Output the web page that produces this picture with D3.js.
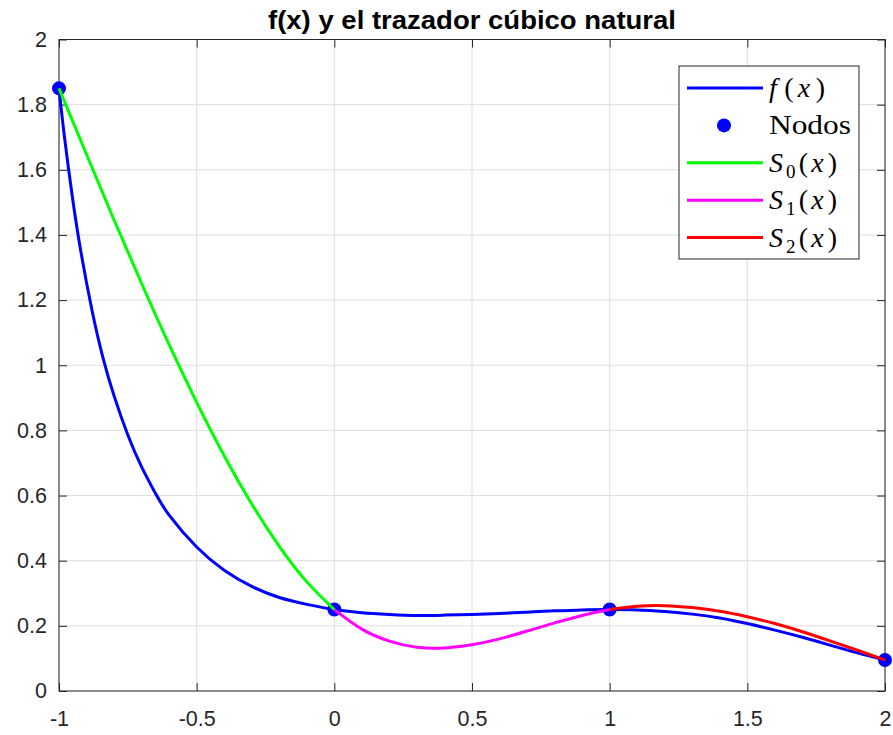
<!DOCTYPE html>
<html>
<head>
<meta charset="utf-8">
<script src="https://cdn.jsdelivr.net/npm/d3@7/dist/d3.min.js"></script>
<style>
  html, body { margin: 0; padding: 0; background: #ffffff; }
  svg { display: block; }
</style>
</head>
<body>
<svg id="chart" width="893" height="735"></svg>
<script>
// Interpolation nodes
const nodeX = [-1, 0, 1, 2];
const nodeY = [1.85, 0.25, 0.25, 0.095];

// f(x) sampled along the interval
const fX = [-1, -0.98, -0.95, -0.92, -0.88, -0.84, -0.8, -0.75, -0.7, -0.65, -0.6, -0.5, -0.4, -0.3, -0.2, -0.1,
            0, 0.1, 0.2, 0.3, 0.4, 0.5, 0.6, 0.7, 0.8, 0.9, 1, 1.1, 1.2, 1.3, 1.4, 1.5, 1.6, 1.7, 1.8, 1.9, 2];
const fY = [1.85, 1.70, 1.508, 1.346, 1.168, 1.022, 0.906, 0.786, 0.688, 0.607, 0.54, 0.442, 0.371, 0.321, 0.287, 0.266,
            0.25, 0.24, 0.235, 0.232, 0.233, 0.235, 0.238, 0.242, 0.246, 0.249, 0.25, 0.249, 0.244, 0.236, 0.224, 0.207, 0.187, 0.165, 0.141, 0.117, 0.095];

// Natural cubic spline pieces
const s0X = [-1, -0.9, -0.8, -0.7, -0.6, -0.5, -0.4, -0.3, -0.2, -0.1, 0];
const s0Y = [1.85, 1.647, 1.446, 1.251, 1.063, 0.886, 0.722, 0.574, 0.444, 0.335, 0.25];
const s1X = [0, 0.1, 0.2, 0.3, 0.4, 0.5, 0.6, 0.7, 0.8, 0.9, 1];
const s1Y = [0.25, 0.190, 0.153, 0.134, 0.132, 0.142, 0.160, 0.184, 0.209, 0.232, 0.25];
const s2X = [1, 1.1, 1.2, 1.3, 1.4, 1.5, 1.6, 1.7, 1.8, 1.9, 2];
const s2Y = [0.25, 0.260, 0.262, 0.256, 0.245, 0.228, 0.207, 0.182, 0.154, 0.125, 0.095];

// Axis ticks
const xTicks = [-1, -0.5, 0, 0.5, 1, 1.5, 2];
const xTickLabels = ["-1", "-0.5", "0", "0.5", "1", "1.5", "2"];
const yTicks = [0, 0.2, 0.4, 0.6, 0.8, 1, 1.2, 1.4, 1.6, 1.8, 2];
const yTickLabels = ["0", "0.2", "0.4", "0.6", "0.8", "1", "1.2", "1.4", "1.6", "1.8", "2"];

const titleText = "f(x) y el trazador cúbico natural";

const plot = { left: 59, right: 885, top: 39.5, bottom: 691 };
const axisColor = "#262626";
const gridColor = "#dfdfdf";

const svg = d3.select("#chart");
const x = d3.scaleLinear().domain([-1, 2]).range([plot.left, plot.right]);
const y = d3.scaleLinear().domain([0, 2]).range([plot.bottom, plot.top]);

// Grid
const grid = svg.append("g");
grid.selectAll("line.gx").data(xTicks).join("line")
  .attr("x1", d => x(d)).attr("x2", d => x(d))
  .attr("y1", plot.top).attr("y2", plot.bottom)
  .attr("stroke", gridColor).attr("stroke-width", 1);
grid.selectAll("line.gy").data(yTicks).join("line")
  .attr("y1", d => y(d)).attr("y2", d => y(d))
  .attr("x1", plot.left).attr("x2", plot.right)
  .attr("stroke", gridColor).attr("stroke-width", 1);

// Axes with inward ticks
const tickLen = 8;
const fontSans = "'Liberation Sans', Arial, Helvetica, sans-serif";

const xAxis = d3.axisBottom(x).tickValues(xTicks)
  .tickFormat((d, i) => xTickLabels[i]).tickSize(-tickLen).tickPadding(20);
const gx = svg.append("g").attr("transform", `translate(0,${plot.bottom})`).call(xAxis);

const yAxis = d3.axisLeft(y).tickValues(yTicks)
  .tickFormat((d, i) => yTickLabels[i]).tickSize(-tickLen).tickPadding(12);
const gy = svg.append("g").attr("transform", `translate(${plot.left},0)`).call(yAxis);

const xAxisTop = d3.axisTop(x).tickValues(xTicks).tickFormat("").tickSize(-tickLen);
const gxt = svg.append("g").attr("transform", `translate(0,${plot.top})`).call(xAxisTop);
const yAxisRight = d3.axisRight(y).tickValues(yTicks).tickFormat("").tickSize(-tickLen);
const gyr = svg.append("g").attr("transform", `translate(${plot.right},0)`).call(yAxisRight);

[gx, gy, gxt, gyr].forEach(g => {
  g.select(".domain").remove();
  g.selectAll(".tick line").attr("stroke", axisColor).attr("stroke-width", 1);
  g.selectAll(".tick text").attr("fill", axisColor)
    .style("font-family", fontSans).style("font-size", "21.5px");
});

// Box
svg.append("rect")
  .attr("x", plot.left).attr("y", plot.top)
  .attr("width", plot.right - plot.left).attr("height", plot.bottom - plot.top)
  .attr("fill", "none").attr("stroke", axisColor).attr("stroke-width", 1);

// Curves
const zip = (a, b) => a.map((v, i) => [v, b[i]]);
const lineOf = curve => d3.line().x(d => x(d[0])).y(d => y(d[1])).curve(curve);
const lw = 3;

svg.append("path").datum(zip(fX, fY)).attr("d", lineOf(d3.curveNatural))
  .attr("fill", "none").attr("stroke", "#0000ff").attr("stroke-width", lw);

svg.append("g").selectAll("circle").data(zip(nodeX, nodeY)).join("circle")
  .attr("cx", d => x(d[0])).attr("cy", d => y(d[1])).attr("r", 7)
  .attr("fill", "#0000ff");

const pieces = [
  { xs: s0X, ys: s0Y, color: "#00ff00" },
  { xs: s1X, ys: s1Y, color: "#ff00ff" },
  { xs: s2X, ys: s2Y, color: "#ff0000" }
];
pieces.forEach(p => {
  svg.append("path").datum(zip(p.xs, p.ys)).attr("d", lineOf(d3.curveNatural))
    .attr("fill", "none").attr("stroke", p.color).attr("stroke-width", lw);
});

// Title
svg.append("text")
  .attr("x", (plot.left + plot.right) / 2).attr("y", 29)
  .attr("text-anchor", "middle")
  .style("font-family", fontSans).style("font-weight", "bold").style("font-size", "25px")
  .attr("textLength", 408).attr("lengthAdjust", "spacingAndGlyphs")
  .attr("fill", "#000000")
  .text(titleText);

// Legend
const legend = svg.append("g");
legend.append("rect")
  .attr("x", 679).attr("y", 66).attr("width", 180).attr("height", 193)
  .attr("fill", "#ffffff").attr("stroke", axisColor).attr("stroke-width", 1);

const fontSerif = "'Liberation Serif', 'Times New Roman', serif";
const legendRows = [
  { type: "line", color: "#0000ff", parts: [["f", true, false, 0], ["(", false, false, 4], ["x", true, false, 1], [")", false, false, 2]], width: 56, adj: "spacing" },
  { type: "dot", color: "#0000ff", parts: [["Nodos", false, false, 0]], width: 82, adj: "spacingAndGlyphs" },
  { type: "line", color: "#00ff00", parts: [["S", true, false, 0], ["0", false, true, 1], ["(", false, false, 1], ["x", true, false, 1], [")", false, false, 2]], width: 68, adj: "spacing" },
  { type: "line", color: "#ff00ff", parts: [["S", true, false, 0], ["1", false, true, 1], ["(", false, false, 1], ["x", true, false, 1], [")", false, false, 2]], width: 68, adj: "spacing" },
  { type: "line", color: "#ff0000", parts: [["S", true, false, 0], ["2", false, true, 1], ["(", false, false, 1], ["x", true, false, 1], [")", false, false, 2]], width: 68, adj: "spacing" }
];
const rowY0 = 88, rowStep = 37.4;
legendRows.forEach((r, i) => {
  const cy = rowY0 + i * rowStep;
  if (r.type === "line") {
    legend.append("line").attr("x1", 687).attr("x2", 763).attr("y1", cy).attr("y2", cy)
      .attr("stroke", r.color).attr("stroke-width", lw);
  } else {
    legend.append("circle").attr("cx", 724).attr("cy", cy).attr("r", 7).attr("fill", r.color);
  }
  const t = legend.append("text")
    .attr("x", 769).attr("y", cy + 9)
    .style("font-family", fontSerif).style("font-size", "28px").attr("fill", "#000000")
    .attr("textLength", r.width).attr("lengthAdjust", r.adj);
  let shifted = false;
  r.parts.forEach(([s, ital, sub, gap]) => {
    const ts = t.append("tspan").text(s);
    if (gap) ts.attr("dx", gap);
    if (ital) ts.style("font-style", "italic");
    if (sub) { ts.attr("dy", 6).style("font-size", "19px"); shifted = true; }
    else if (shifted) { ts.attr("dy", -6); shifted = false; }
  });
});
</script>
</body>
</html>
